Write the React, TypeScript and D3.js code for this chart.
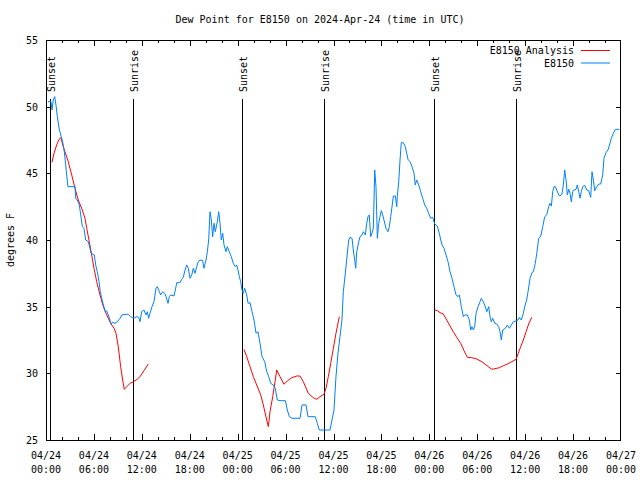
import React from "react";
import * as d3 from "d3";

// Observed dew point (E8150), hours since 2024-04-24 00:00 UTC
const obsHours = [0.25,0.63,0.75,0.91,1.09,1.25,1.42,1.63,1.84,2.09,2.29,2.47,2.59,2.75,3.63,3.72,3.92,4.17,4.35,4.55,4.76,4.97,5.30,5.51,5.64,6.05,6.22,6.42,6.64,6.80,6.97,7.18,7.43,7.60,7.80,8.01,8.14,8.35,8.64,8.93,9.27,9.52,10.02,10.31,10.61,10.86,11.11,11.36,11.61,11.77,11.98,12.27,12.52,12.69,12.86,13.02,13.27,13.52,13.77,13.94,14.19,14.36,14.61,14.86,15.03,15.28,15.44,15.62,16.03,16.28,16.37,16.78,16.99,17.19,17.41,17.62,17.82,18.03,18.25,18.45,18.66,18.87,19.07,19.28,19.62,19.78,20.04,20.20,20.37,20.54,20.70,20.87,21.04,21.20,21.45,21.63,21.79,21.95,22.13,22.29,22.54,22.70,22.95,23.20,23.45,23.70,23.88,24.04,24.21,24.38,24.54,24.71,24.88,25.13,25.30,25.55,25.80,26.05,26.30,26.55,26.80,27.05,27.39,27.64,27.89,28.14,28.46,28.71,28.96,29.30,29.97,30.22,30.47,30.80,31.81,32.06,32.56,32.81,33.72,33.97,34.22,35.56,35.81,36.06,36.31,36.56,36.81,37.06,37.23,37.48,37.65,37.90,38.07,38.32,38.48,38.66,38.78,38.91,39.16,39.32,39.57,39.73,39.98,40.16,40.32,40.48,40.66,40.82,40.99,41.16,41.32,41.49,41.66,41.82,41.99,42.16,42.32,42.57,42.83,42.99,43.16,43.33,43.49,43.74,43.92,43.99,44.17,44.33,44.49,44.74,44.99,45.17,45.33,45.58,45.83,46.08,46.24,46.42,46.67,46.92,47.17,47.42,47.67,47.92,48.17,48.42,48.67,49.00,49.25,49.43,49.59,49.84,50.09,50.34,50.59,50.84,51.09,51.34,51.59,51.76,52.01,52.26,52.43,52.76,53.01,53.18,53.34,53.51,53.68,53.85,54.10,54.35,54.51,54.76,55.01,55.19,55.44,55.60,55.76,55.94,56.19,56.44,56.69,56.85,57.01,57.19,57.52,57.77,58.02,58.27,58.52,58.85,59.10,59.27,59.52,59.77,59.94,60.19,60.36,60.61,60.86,61.02,61.27,61.45,61.70,61.95,62.20,62.45,62.70,62.95,63.11,63.28,63.45,63.61,63.78,63.95,64.20,64.36,64.61,64.78,64.95,65.12,65.28,65.46,65.62,65.78,65.95,66.12,66.37,66.53,66.71,66.87,67.03,67.21,67.46,67.71,67.96,68.21,68.37,68.54,68.71,68.96,69.21,69.46,69.71,69.87,70.12,70.37,70.62,70.79,71.04,71.29,71.79];
const obsDew = [50.37,50.37,49.75,50.5,50.75,50.13,49.25,48.4,47.88,47.37,46.62,45.63,44.88,44.0,44.0,43.13,43.0,42.63,41.88,41.0,40.88,40.0,39.87,39.38,39.0,38.88,38.13,37.62,36.87,36.12,35.63,35.13,34.62,34.68,34.38,34.0,33.68,33.83,33.75,33.87,34.13,34.38,34.43,34.43,34.25,34.17,34.17,34.25,34.2,33.87,34.62,34.75,34.38,34.62,34.13,34.5,35.0,35.37,36.38,36.5,36.12,35.88,36.12,36.0,35.75,35.25,35.75,35.88,35.8,36.5,36.8,36.8,37.05,37.2,37.75,38.13,37.88,37.13,37.38,37.88,37.5,38.0,38.37,38.5,38.45,37.88,38.5,39.12,40.0,42.12,41.5,40.25,41.25,40.62,41.37,42.12,41.25,40.0,40.5,39.63,39.12,39.5,39.12,38.75,38.25,38.0,38.13,37.75,37.25,36.87,36.25,36.0,36.38,35.88,35.25,35.3,34.62,34.0,33.0,33.12,32.25,31.25,30.87,30.12,29.75,29.25,29.13,28.88,28.0,27.95,27.95,27.25,26.75,26.63,26.63,27.63,27.63,26.75,26.75,26.25,25.75,25.75,26.5,27.25,29.75,31.5,32.75,34.0,36.12,37.5,38.5,40.0,40.2,40.13,39.25,38.5,37.88,39.12,39.87,40.25,40.38,40.62,40.38,41.25,41.75,41.88,40.25,40.5,40.88,45.25,44.0,40.13,41.25,41.75,42.2,41.88,41.5,40.88,40.62,41.0,41.75,42.5,43.3,43.3,42.5,43.25,44.37,46.0,47.3,47.3,47.0,46.5,46.05,45.87,45.5,45.0,44.13,44.5,44.13,43.62,43.13,42.63,42.38,42.0,41.63,41.7,41.2,41.05,40.5,40.0,39.63,39.38,38.88,38.37,37.62,37.13,36.5,35.88,35.75,35.88,35.0,34.25,34.38,34.38,34.0,33.25,33.5,33.25,33.5,34.5,35.0,35.37,35.63,35.37,35.0,34.62,35.0,34.25,33.87,34.13,33.75,33.7,33.5,33.12,32.5,33.25,33.38,33.62,33.38,33.62,33.87,33.93,34.0,34.2,34.0,34.5,35.0,35.5,36.12,37.13,37.55,37.62,38.25,39.0,40.13,40.3,41.0,41.75,41.88,42.5,42.75,42.55,43.62,44.0,44.0,43.75,43.38,43.3,43.45,44.13,45.25,44.5,43.38,43.8,43.5,42.87,43.62,43.75,43.8,44.13,43.62,43.13,43.62,44.0,44.1,43.75,43.7,43.2,45.12,44.5,43.7,44.0,44.2,44.2,44.88,46.13,46.55,46.75,47.25,47.63,48.0,48.3,48.3];

// Analysis dew point (three separate segments, NaN = gap)
const analysisHours = [0.75,1.00,1.34,1.63,1.88,2.09,2.38,2.79,3.22,3.63,4.04,4.47,4.88,5.10,5.42,5.72,6.01,6.35,6.76,7.18,7.60,8.10,8.52,8.77,9.05,9.35,9.60,9.80,10.11,10.52,10.93,11.43,11.77,12.27,12.81,
  NaN,
  24.79,25.13,25.55,25.96,26.38,26.89,27.21,27.64,27.84,28.05,28.39,28.68,28.89,29.30,29.80,30.22,30.77,31.39,31.81,32.22,32.85,33.47,33.90,34.31,34.81,35.06,35.35,35.65,35.98,36.31,36.73,
  NaN,
  48.67,49.00,49.34,49.75,50.18,50.59,51.00,51.43,51.93,52.34,52.76,53.31,53.85,54.35,54.85,55.39,55.81,56.22,56.76,57.26,57.77,58.32,58.85,59.14,59.44,59.77,60.11,60.44,60.82];
const analysisDew = [45.83,46.5,47.13,47.55,47.67,47.13,46.62,45.87,44.88,43.88,43.0,42.38,41.63,40.88,39.87,38.88,37.88,36.87,35.88,35.0,34.38,33.75,33.38,33.0,32.0,30.5,29.5,28.8,29.0,29.25,29.37,29.55,29.75,30.2,30.7,
  NaN,
  31.8,31.25,30.5,29.75,29.13,28.38,27.63,26.5,26.0,27.12,28.25,29.37,30.25,29.75,29.18,29.43,29.67,29.8,29.8,29.37,28.5,28.17,28.05,28.25,28.43,28.88,29.75,30.75,31.88,33.0,34.25,
  NaN,
  34.75,34.7,34.55,34.45,34.0,33.55,33.12,32.7,32.25,31.7,31.2,31.17,31.1,30.95,30.75,30.5,30.3,30.35,30.42,30.57,30.7,30.87,31.05,31.5,32.0,32.5,33.12,33.7,34.2];

const sunEventHours = [0.54, 10.93, 24.58, 34.85, 48.62, 58.89];
const sunEventLabels = ["Sunset", "Sunrise", "Sunset", "Sunrise", "Sunset", "Sunrise"];

const xTickHours = [0, 6, 12, 18, 24, 30, 36, 42, 48, 54, 60, 66, 72];
const xTickDates = ["04/24","04/24","04/24","04/24","04/25","04/25","04/25","04/25","04/26","04/26","04/26","04/26","04/27"];
const xTickTimes = ["00:00","06:00","12:00","18:00","00:00","06:00","12:00","18:00","00:00","06:00","12:00","18:00","00:00"];
const yTicks = [25, 30, 35, 40, 45, 50, 55];

const seriesNames = ["E8150 Analysis", "E8150"];
const seriesColors = ["#ff0000", "#0080ff"];

const FONT = "'DejaVu Sans Mono', monospace";

export default function App() {
  const W = 640, H = 480;
  const L = 46, R = 621, T = 40, B = 440;
  const x = d3.scaleLinear().domain([0, 72]).range([L, R]);
  const y = d3.scaleLinear().domain([25, 55]).range([B, T]);

  const obsData = obsHours.map((h, i) => [h, obsDew[i]] as [number, number]);
  const anaData = analysisHours.map((h, i) => [h, analysisDew[i]] as [number, number]);
  const line = d3.line<[number, number]>()
    .defined(d => !isNaN(d[0]) && !isNaN(d[1]))
    .x(d => x(d[0]))
    .y(d => y(d[1]));

  const minorHours = d3.range(0, 73, 2).filter(h => h % 6 !== 0);
  const fs = 10;
  const px = (h: number) => Math.min(Math.max(Math.round(x(h)) + 0.5, L + 0.5), R - 0.5);
  const py = (v: number) => Math.min(Math.max(Math.round(y(v)) + 0.5, T + 0.5), B + 0.5);

  return (
    <svg width={W} height={H} style={{ position: "absolute", left: 0, top: 0, background: "#fff" }}
      fontFamily={FONT} fontSize={fs}>
      <rect x={0} y={0} width={W} height={H} fill="#fff" />
      {/* title */}
      <text x={320} y={23} textAnchor="middle" fill="#000">Dew Point for E8150 on 2024-Apr-24 (time in UTC)</text>
      {/* y label */}
      <text transform={`translate(14,240) rotate(-90)`} textAnchor="middle" fill="#000">degrees F</text>

      {/* y ticks */}
      {yTicks.map(v => (
        <g key={"y" + v}>
          <line x1={L} x2={L + 5} y1={py(v)} y2={py(v)} stroke="#000" />
          <line x1={R - 5} x2={R} y1={py(v)} y2={py(v)} stroke="#000" />
          <text x={L - 8} y={y(v) + 4} textAnchor="end" fill="#000">{v}</text>
        </g>
      ))}
      {/* x ticks */}
      {xTickHours.map((h, i) => (
        <g key={"x" + h}>
          <line x1={px(h)} x2={px(h)} y1={B} y2={B - 6} stroke="#000" />
          <line x1={px(h)} x2={px(h)} y1={T} y2={T + 6} stroke="#000" />
          <text x={x(h)} y={459} textAnchor="middle" fill="#000">{xTickDates[i]}</text>
          <text x={x(h)} y={473} textAnchor="middle" fill="#000">{xTickTimes[i]}</text>
        </g>
      ))}
      {minorHours.map(h => (
        <g key={"m" + h}>
          <line x1={px(h)} x2={px(h)} y1={B} y2={B - 3} stroke="#000" />
          <line x1={px(h)} x2={px(h)} y1={T} y2={T + 3} stroke="#000" />
        </g>
      ))}

      {/* sunrise / sunset lines */}
      {sunEventHours.map((h, i) => (
        <g key={"s" + i}>
          <line x1={px(h)} x2={px(h)} y1={99} y2={B} stroke="#000" />
          <text transform={`translate(${px(h) + 4},92) rotate(-90)`} textAnchor="start" fill="#000">{sunEventLabels[i]}</text>
        </g>
      ))}

      {/* data */}
      <path d={line(anaData) || ""} fill="none" stroke={seriesColors[0]} strokeWidth={1} />
      <path d={line(obsData) || ""} fill="none" stroke={seriesColors[1]} strokeWidth={1} />

      {/* legend */}
      {seriesNames.map((n, i) => (
        <g key={"l" + i}>
          <text x={574} y={54 + i * 12.5} textAnchor="end" fill="#000">{n}</text>
          <line x1={581} x2={610} y1={50.5 + i * 12.5} y2={50.5 + i * 12.5} stroke={seriesColors[i]} />
        </g>
      ))}

      {/* border */}
      <rect x={L + 0.5} y={T + 0.5} width={R - L - 1} height={B - T} fill="none" stroke="#000" />
    </svg>
  );
}
